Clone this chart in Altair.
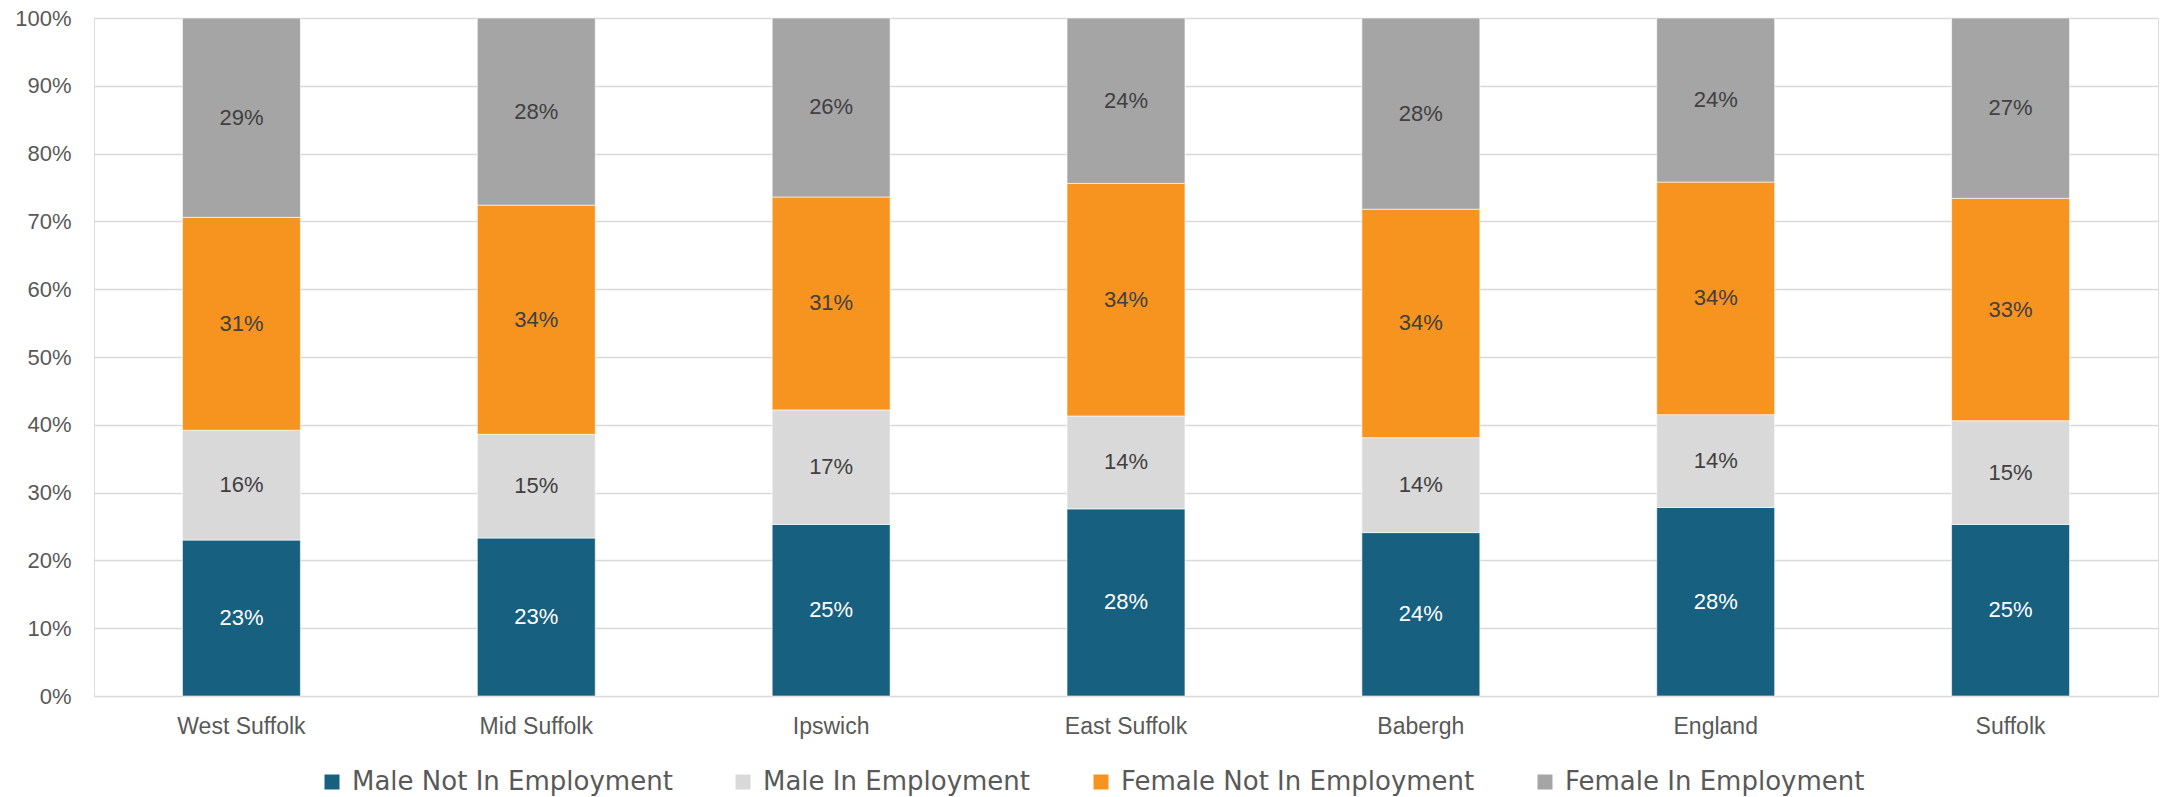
import altair as alt
import pandas as pd

areas = ["West Suffolk", "Mid Suffolk", "Ipswich", "East Suffolk", "Babergh", "England", "Suffolk"]
series = ["Male Not In Employment", "Male In Employment", "Female Not In Employment", "Female In Employment"]
male_not = [0.230, 0.233, 0.253, 0.276, 0.241, 0.278, 0.253]
male_in = [0.162, 0.153, 0.169, 0.137, 0.140, 0.137, 0.153]
female_not = [0.314, 0.338, 0.314, 0.343, 0.337, 0.343, 0.328]
female_in = [0.294, 0.276, 0.264, 0.244, 0.282, 0.242, 0.266]
colors = ["#17607F", "#D9D9D9", "#F7941F", "#A5A5A5"]

rows = []
for si, (s, vals) in enumerate(zip(series, [male_not, male_in, female_not, female_in])):
    for a, v in zip(areas, vals):
        rows.append({"area": a, "series": s, "order": si, "value": v})
df = pd.DataFrame(rows)

base = alt.Chart(df).transform_stack(
    stack="value", groupby=["area"], as_=["y0", "y1"], sort=[alt.SortField("order", order="ascending")]
).transform_calculate(mid="(datum.y0 + datum.y1) / 2")

x_enc = alt.X("area:N", sort=areas, title=None,
              scale=alt.Scale(paddingInner=0.6, paddingOuter=0.3),
              axis=alt.Axis(labelAngle=0, labelFont="Liberation Sans", labelFontSize=23,
                            labelColor="#595959", labelPadding=19, ticks=False, tickSize=0,
                            domain=False, grid=False))

bars = base.mark_bar(stroke="white", strokeWidth=0.6).encode(
    x=x_enc,
    y=alt.Y("y0:Q", title=None, scale=alt.Scale(domain=[0, 1], nice=False),
            axis=alt.Axis(values=[0, 0.1, 0.2, 0.3, 0.4, 0.5, 0.6, 0.7, 0.8, 0.9, 1.0],
                          format=".0%", labelFont="Liberation Sans", labelFontSize=22,
                          labelColor="#595959", labelPadding=23, ticks=False, tickSize=0,
                          domain=False, grid=True, gridColor="#D9D9D9", gridWidth=1.5)),
    y2="y1:Q",
    color=alt.Color("series:N", sort=series,
                    scale=alt.Scale(domain=series, range=colors),
                    legend=alt.Legend(title=None, orient="none", direction="horizontal", columns=4,
                                      legendX=225, legendY=751, padding=0,
                                      symbolType="square", symbolSize=225, symbolStrokeWidth=0,
                                      labelFont="DejaVu Sans", labelFontSize=26, labelColor="#595959",
                                      labelOffset=7, labelLimit=0, columnPadding=57)),
)

labels = base.transform_calculate(
    tcol="datum.series == 'Male Not In Employment' ? 'white' : '#404040'"
).mark_text(font="Liberation Sans", fontSize=22, baseline="middle", align="center").encode(
    x=alt.X("area:N", sort=areas),
    y=alt.Y("mid:Q"),
    text=alt.Text("value:Q", format=".0%"),
    color=alt.Color("tcol:N", scale=None, legend=None),
)

chart = alt.layer(bars, labels).resolve_scale(color="independent").properties(
    width=2064, height=678,
    autosize=alt.AutoSizeParams(type="none"),
    padding={"left": 94, "top": 18, "right": 3, "bottom": 101},
).configure_view(stroke=None).configure(background="white")

chart.save("out.html", embed_options={"renderer": "svg", "actions": False})
